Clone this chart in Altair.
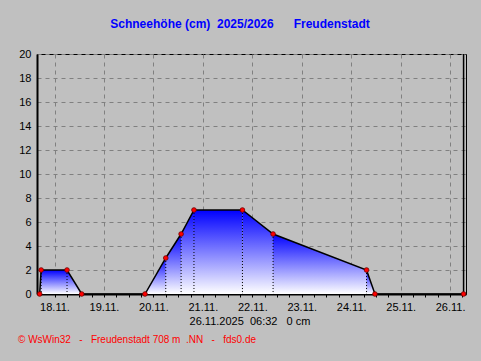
import altair as alt
import pandas as pd

# Measurement times (day of November, fractional) and snow depth (cm)
times = [17.70, 17.73, 18.253, 18.55, 19.83, 20.25, 20.56, 20.82, 21.80, 22.42, 24.31, 24.48, 26.272]
depth = [0, 2, 2, 0, 0, 3, 5, 7, 7, 5, 2, 0, 0]
y_ticks = [0, 2, 4, 6, 8, 10, 12, 14, 16, 18, 20]
title_text = "Schneehöhe (cm)\u00a0\u00a02025/2026\u00a0\u00a0\u00a0\u00a0\u00a0\u00a0Freudenstadt"
status_text = "26.11.2025\u00a0\u00a006:32\u00a0\u00a0\u00a00 cm"
footer_text = "©\u00a0WsWin32\u00a0\u00a0\u00a0-\u00a0\u00a0\u00a0Freudenstadt 708 m\u00a0\u00a0.NN\u00a0\u00a0\u00a0-\u00a0\u00a0\u00a0fds0.de"

FONT = "Liberation Sans"

pts = pd.DataFrame({"t": times, "v": depth})
seg_rows = []
for i in range(len(times) - 1):
    if depth[i] == 0 and depth[i + 1] == 0:
        continue
    seg_rows.append({"t": times[i], "v": depth[i], "seg": "s%d" % i})
    seg_rows.append({"t": times[i + 1], "v": depth[i + 1], "seg": "s%d" % i})
segs = pd.DataFrame(seg_rows)
pos = pts[pts["v"] > 0]
last = pd.DataFrame({"t": [times[-1]]})

minor = [d / 4 for d in range(18 * 4, 26 * 4 + 2)]

xscale = alt.Scale(domain=[17.646, 26.321], nice=False, zero=False)
yscale = alt.Scale(domain=[0, 20], nice=False)

xaxis = alt.Axis(
    values=minor,
    labelExpr="datum.value % 1 === 0 ? datum.value + '.11.' : ''",
    grid=True,
    gridOpacity={"condition": {"test": "datum.value % 1 === 0", "value": 1}, "value": 0},
    gridDash=[4, 4], gridColor="#808080", gridWidth=1,
    tickSize=3, tickColor="black", tickWidth=1,
    domainColor="black", domainWidth=2,
    labelPadding=4, labelFont=FONT, labelFontSize=11, labelColor="black",
    labelAngle=0, labelOverlap=False, title=None,
)
yaxis = alt.Axis(
    values=y_ticks, grid=True, gridDash=[4, 4], gridColor="#808080", gridWidth=1,
    ticks=False, domainColor="black", domainWidth=2, labelOverlap=False,
    labelPadding=6, labelFont=FONT, labelFontSize=11, labelColor="black", title=None,
)

X = alt.X("t:Q", scale=xscale, axis=xaxis)
Y = alt.Y("v:Q", scale=yscale, axis=yaxis, stack=None)

grad = alt.Gradient(
    gradient="linear",
    stops=[alt.GradientStop(color="#0000ff", offset=0), alt.GradientStop(color="#ffffff", offset=1)],
    x1=0, x2=0, y1=0, y2=1,
)

area = alt.Chart(segs).mark_area(color=grad).encode(x=X, y=Y, detail="seg:N")

dots_v = alt.Chart(pos).mark_rule(color="black", strokeDash=[1, 2], strokeWidth=1).encode(
    x=X, y=Y, y2=alt.datum(0)
)

line = alt.Chart(pts).mark_line(color="black", strokeWidth=1.5).encode(x=X, y=Y)

now_rule = alt.Chart(last).mark_rule(color="black", strokeWidth=1.5).encode(x=X)

points = alt.Chart(pts).mark_circle(color="#ff0000", size=22, opacity=1, stroke="#700000", strokeWidth=0.8).encode(
    x=X, y=Y
)

title = alt.Chart(pd.DataFrame({"s": [title_text]})).mark_text(
    font=FONT, fontSize=12, fontWeight="bold", color="#0000ff", align="center", baseline="middle"
).encode(x=alt.value(203), y=alt.value(-30), text="s:N")

status = alt.Chart(pd.DataFrame({"s": [status_text]})).mark_text(
    font=FONT, fontSize=11, color="black", align="center", baseline="middle"
).encode(x=alt.value(213), y=alt.value(28 + 240), text="s:N")

footer = alt.Chart(pd.DataFrame({"s": [footer_text]})).mark_text(
    font=FONT, fontSize=10, color="#ff0000", align="left", baseline="middle"
).encode(x=alt.value(-19), y=alt.value(46 + 240), text="s:N")

chart = alt.layer(area, dots_v, line, now_rule, points, title, status, footer).properties(
    width=429, height=240,
    padding={"left": 37, "top": 54, "right": 15, "bottom": 67},
    autosize=alt.AutoSizeParams(type="none"),
    background="#c0c0c0",
).configure_view(stroke="black", strokeWidth=1, fill="#c0c0c0")

chart.save("out.html", embed_options={"renderer": "svg", "actions": False})
